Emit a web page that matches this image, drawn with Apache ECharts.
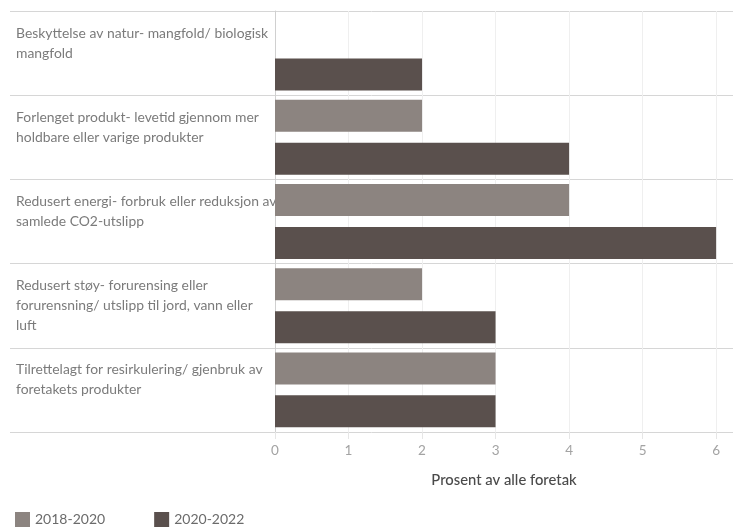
<!DOCTYPE html>
<html><head><meta charset="utf-8">
<script src="https://cdn.jsdelivr.net/npm/echarts@6/dist/echarts.min.js"></script>
<style>html,body{margin:0;padding:0;background:#fff}#c{width:733px;height:528px}</style>
</head><body><div id="c"></div>
<script>
const categories = [
  'Beskyttelse av natur- mangfold/ biologisk\nmangfold',
  'Forlenget produkt- levetid gjennom mer\nholdbare eller varige produkter',
  'Redusert energi- forbruk eller reduksjon av\nsamlede CO2-utslipp',
  'Redusert støy- forurensing eller\nforurensning/ utslipp til jord, vann eller\nluft',
  'Tilrettelagt for resirkulering/ gjenbruk av\nforetakets produkter'
];
const seriesNames = ['2018-2020', '2020-2022'];
const values2018 = [null, 2, 4, 2, 3];
const values2020 = [2, 4, 6, 3, 3];
const xTicks = [0, 1, 2, 3, 4, 5, 6];
const axisTitle = 'Prosent av alle foretak';

const FONT = 'Lato';
const chart = echarts.init(document.getElementById('c'), null, {renderer: 'canvas'});
chart.setOption({
  animation: false,
  textStyle: {fontFamily: FONT},
  grid: [
    {left: 10, right: 0, top: 11, height: 421, outerBoundsMode: 'none', containLabel: false},
    {left: 275, right: 0, top: 11, height: 421, outerBoundsMode: 'none', containLabel: false}
  ],
  legend: {
    left: 10, top: 507,
    icon: 'rect', itemWidth: 15, itemHeight: 15, itemGap: 49,
    textStyle: {color: '#6b6b6b', fontSize: 14, fontFamily: FONT},
    data: seriesNames
  },
  xAxis: [
    {gridIndex: 0, type: 'value', show: false, min: 0, max: 1},
    {
      gridIndex: 1, type: 'value', min: 0, max: 6.23, interval: 1,
      axisLine: {show: false},
      axisTick: {show: true, length: 7, lineStyle: {color: '#e6e6e6'}},
      splitLine: {show: true, lineStyle: {color: '#efefef', width: 1}},
      axisLabel: {
        color: '#a3a3a3', fontSize: 13.5, margin: 12, fontFamily: FONT,
        formatter: v => (xTicks.indexOf(v) >= 0 ? String(v) : '')
      },
      name: axisTitle, nameLocation: 'middle', nameGap: 41,
      nameTextStyle: {color: '#4a4a4a', fontSize: 14.8, fontWeight: 500, fontFamily: FONT}
    }
  ],
  yAxis: [
    {
      gridIndex: 0, type: 'category', inverse: true, data: categories,
      axisLine: {show: false}, axisTick: {show: false}, axisLabel: {show: false},
      splitLine: {show: true, lineStyle: {color: '#d6d6d6', width: 1}}
    },
    {
      gridIndex: 1, type: 'category', inverse: true, data: categories,
      axisLine: {show: true, lineStyle: {color: '#d0d0d0'}},
      axisTick: {show: false},
      splitLine: {show: false},
      axisLabel: {
        align: 'left', margin: 259, color: '#7b7b7b', fontSize: 13.9, lineHeight: 20,
        fontFamily: FONT,
        formatter: v => {
          const lines = v.split('\n');
          while (lines.length < 3) lines.push(' ');
          return lines.join('\n');
        }
      }
    }
  ],
  series: [
    {
      name: seriesNames[0], type: 'bar', xAxisIndex: 1, yAxisIndex: 1,
      data: values2018, barWidth: 32, barGap: '34%',
      itemStyle: {color: '#8c8480'}
    },
    {
      name: seriesNames[1], type: 'bar', xAxisIndex: 1, yAxisIndex: 1,
      data: values2020, barWidth: 32, barGap: '34%',
      itemStyle: {color: '#5a504d'}
    }
  ]
});
</script></body></html>
